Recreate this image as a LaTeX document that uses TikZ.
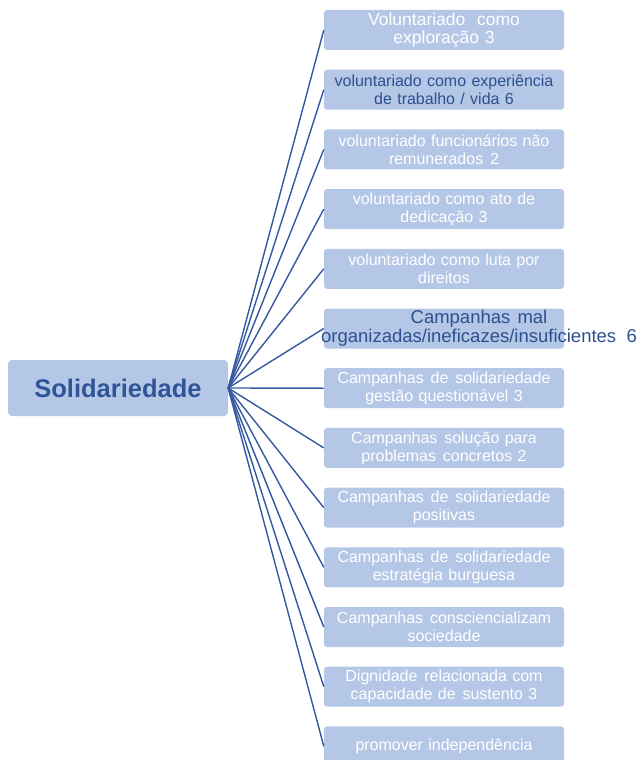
\documentclass[tikz,border=0pt]{standalone}
\usepackage{fontspec}
\setmainfont{Liberation Sans}
\definecolor{boxfill}{HTML}{B4C7E7}
\definecolor{linecol}{HTML}{3558A0}
\definecolor{darktxt}{HTML}{2F5597}
\definecolor{dtxt}{HTML}{2E4F8F}
\begin{document}
\begin{tikzpicture}[x=1pt,y=-1pt,
  box/.style={draw=none,fill=boxfill,rounded corners=3pt,minimum width=240pt,minimum height=40pt,
    inner sep=0pt,text width=240pt,align=center,text=white,font=\fontsize{16}{18}\selectfont},
  conn/.style={draw=linecol,line width=1.4pt}]
\useasboundingbox (0,0) rectangle (641,760);
\clip (0,0) rectangle (641,760);
\node[fill=boxfill,rounded corners=4pt,minimum width=220pt,minimum height=56pt,inner sep=0pt,
  text=darktxt,font=\fontsize{25.5}{28}\selectfont\bfseries] (sol) at (118,388) {Solidariedade};
\node[box,font=\fontsize{17.5}{18}\selectfont] (b1) at (444,30.0) {Voluntariado\ \ como\\ exploração 3};
\node[box,text=dtxt] (b2) at (444,89.7) {voluntariado como experiência\\ de trabalho / vida 6};
\node[box] (b3) at (444,149.4) {voluntariado funcionários não\\ remunerados\hspace{1.5pt} 2};
\node[box] (b4) at (444,209.1) {voluntariado como ato de\\ dedicação 3};
\node[box] (b5) at (444,268.8) {voluntariado como luta por\\ direitos};
\node[box] (b6) at (444,328.5) {};
\node[text=dtxt,font=\fontsize{18.5}{19}\selectfont,align=center,inner sep=0pt] (t6) at (479,328.5)
  {Campanhas\hspace{2pt} mal\\ organizadas/ineficazes/insuficientes\ \ 6};
\node[box] (b7) at (444,388.2) {Campanhas\hspace{1.5pt} de\hspace{1.5pt} solidariedade\\ gestão questionável 3};
\node[box] (b8) at (444,447.9) {Campanhas\hspace{1.5pt} solução para\\ problemas\hspace{1.5pt} concretos 2};
\node[box] (b9) at (444,507.6) {Campanhas\hspace{1.5pt} de\hspace{1.5pt} solidariedade\\ positivas};
\node[box] (b10) at (444,567.3) {Campanhas\hspace{1.5pt} de\hspace{1.5pt} solidariedade\\ estratégia burguesa};
\node[box] (b11) at (444,627.0) {Campanhas\hspace{1.5pt} consciencializam\\ sociedade};
\node[box] (b12) at (444,686.7) {Dignidade\hspace{1.5pt} relacionada com\\ capacidade de\hspace{1.5pt} sustento 3};
\node[box] (b13) at (444,746.4) {promover independência};
\foreach \i in {1,...,13}{\draw[conn] (sol.east) -- (b\i.west);}
\end{tikzpicture}
\end{document}
